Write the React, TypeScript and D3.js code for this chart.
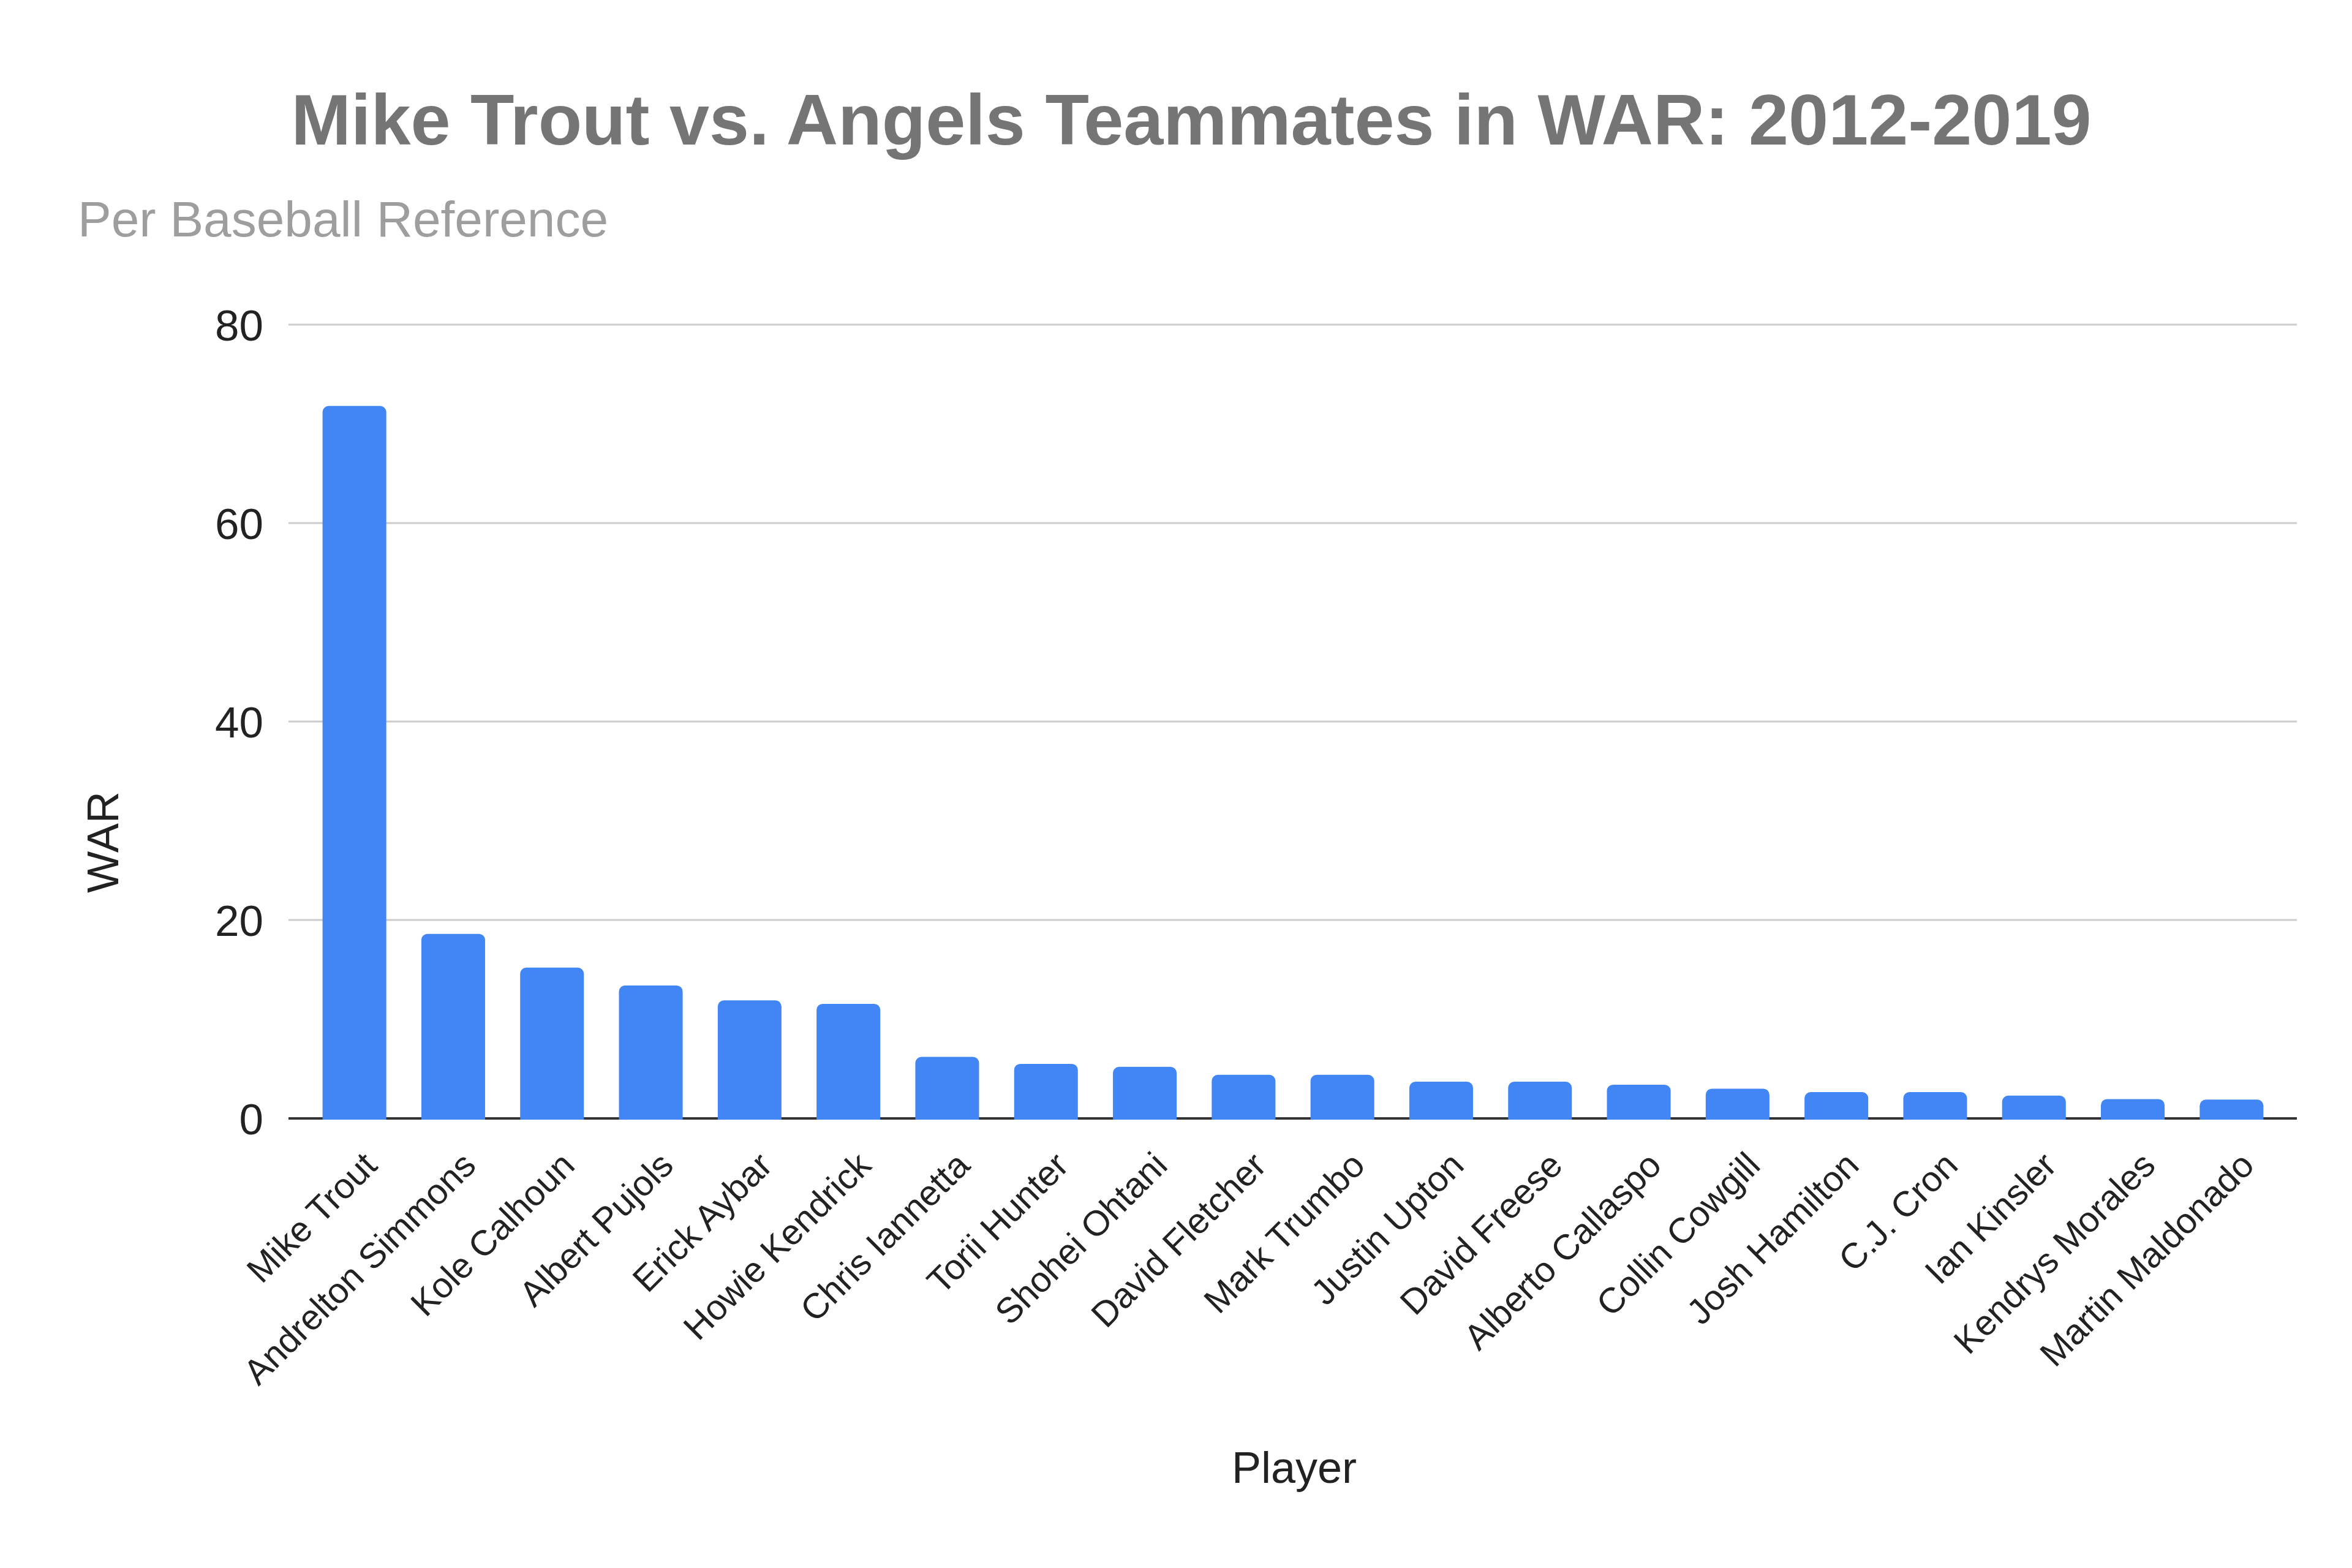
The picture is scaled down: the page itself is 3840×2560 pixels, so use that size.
import React from "react";
import * as d3 from "d3";

const players = [
  "Mike Trout",
  "Andrelton Simmons",
  "Kole Calhoun",
  "Albert Pujols",
  "Erick Aybar",
  "Howie Kendrick",
  "Chris Iannetta",
  "Torii Hunter",
  "Shohei Ohtani",
  "David Fletcher",
  "Mark Trumbo",
  "Justin Upton",
  "David Freese",
  "Alberto Callaspo",
  "Collin Cowgill",
  "Josh Hamilton",
  "C.J. Cron",
  "Ian Kinsler",
  "Kendrys Morales",
  "Martin Maldonado",
];

const war = [
  71.8, 18.6, 15.2, 13.4, 11.9, 11.55, 6.2, 5.5, 5.2, 4.4, 4.4, 3.7, 3.7, 3.4,
  3.0, 2.65, 2.65, 2.3, 1.95, 1.9,
];

const yTicks = [0, 20, 40, 60, 80];

const title = "Mike Trout vs. Angels Teammates in WAR: 2012-2019";
const subtitle = "Per Baseball Reference";
const xTitle = "Player";
const yTitle = "WAR";

const W = 3840;
const H = 2560;
const FONT = "'Liberation Sans', Arial, Helvetica, sans-serif";

function topRoundedBar(x: number, y: number, w: number, y0: number, r: number) {
  const rr = Math.min(r, w / 2, Math.max(0, (y0 - y) / 2));
  const p = d3.path();
  p.moveTo(x, y0);
  p.lineTo(x, y + rr);
  p.arcTo(x, y, x + rr, y, rr);
  p.lineTo(x + w - rr, y);
  p.arcTo(x + w, y, x + w, y + rr, rr);
  p.lineTo(x + w, y0);
  p.closePath();
  return p.toString();
}

export default function App() {
  const gridLeft = 471;
  const gridRight = 3750;

  const x = d3
    .scaleBand<string>()
    .domain(players)
    .range([498, 3724])
    .paddingInner(0.355)
    .paddingOuter(0.1775);

  const y = d3.scaleLinear().domain([0, 80]).range([1826, 530]);

  const y0 = y(0);

  return (
    <svg
      width={W}
      height={H}
      viewBox={`0 0 ${W} ${H}`}
      style={{ position: "absolute", left: 0, top: 0, background: "#fff" }}
      fontFamily={FONT}
    >
      <rect x={0} y={0} width={W} height={H} fill="#ffffff" />

      <text
        x={1945}
        y={236}
        textAnchor="middle"
        fontSize={117}
        fontWeight="bold"
        fill="#757575"
      >
        {title}
      </text>
      <text x={127} y={386} fontSize={82} fill="#9e9e9e">
        {subtitle}
      </text>

      {yTicks
        .filter((t) => t !== 0)
        .map((t) => (
          <line
            key={"g" + t}
            x1={gridLeft}
            x2={gridRight}
            y1={y(t)}
            y2={y(t)}
            stroke="#cccccc"
            strokeWidth={3}
          />
        ))}

      {yTicks.map((t) => (
        <text
          key={"t" + t}
          x={430}
          y={y(t)}
          dy="0.36em"
          textAnchor="end"
          fontSize={71}
          fill="#222222"
        >
          {t}
        </text>
      ))}

      <line
        x1={gridLeft}
        x2={gridRight}
        y1={y0}
        y2={y0}
        stroke="#333333"
        strokeWidth={4}
      />

      {players.map((p, i) => {
        const bx = x(p) as number;
        const bw = x.bandwidth();
        return (
          <path
            key={"b" + p}
            d={topRoundedBar(bx, y(war[i]), bw, y0 + 2, 10)}
            fill="#4285f4"
          />
        );
      })}

      {players.map((p) => {
        const cx = (x(p) as number) + x.bandwidth() / 2;
        return (
          <text
            key={"l" + p}
            transform={`translate(${cx + 40},${y0 + 80}) rotate(-45)`}
            textAnchor="end"
            fontSize={58}
            fill="#222222"
          >
            {p}
          </text>
        );
      })}

      <text
        transform={`translate(193,1375) rotate(-90)`}
        textAnchor="middle"
        fontSize={72}
        fill="#222222"
      >
        {yTitle}
      </text>
      <text x={2113} y={2421} textAnchor="middle" fontSize={72} fill="#222222">
        {xTitle}
      </text>
    </svg>
  );
}
